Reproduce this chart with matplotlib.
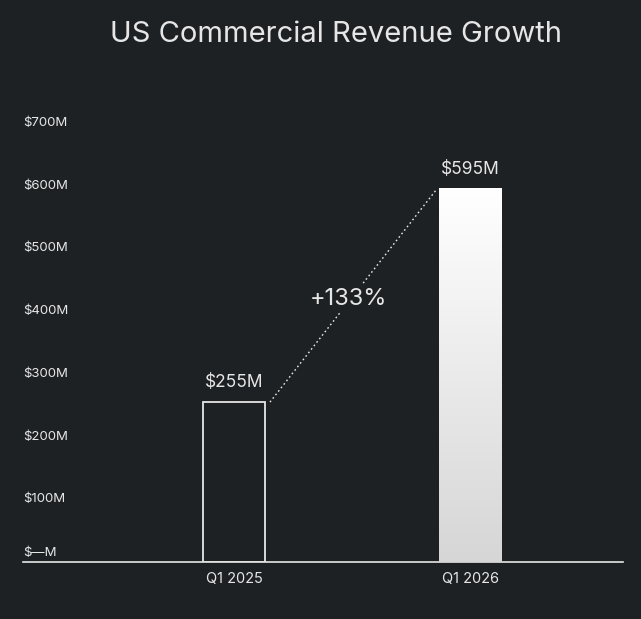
import matplotlib
matplotlib.use("Agg")
import matplotlib.pyplot as plt
import numpy as np
from matplotlib.colors import LinearSegmentedColormap

categories = ["Q1 2025", "Q1 2026"]
values = [255, 595]
value_labels = ["$255M", "$595M"]
growth_label = "+133%"
yticks = [0, 100, 200, 300, 400, 500, 600, 700]
ytick_labels = ["$—M", "$100M", "$200M", "$300M", "$400M", "$500M", "$600M", "$700M"]
title = "US Commercial Revenue Growth"

BG = "#1e2124"
FG = "#e6e6e6"
plt.rcParams['font.family'] = ['Inter', 'DejaVu Sans']

W, H = 641, 619
fig = plt.figure(figsize=(W/100, H/100), dpi=100, facecolor=BG)
ax = fig.add_axes([23/W, (H-562)/H, 600/W, (562-123)/H], facecolor=BG)
for s in ax.spines.values():
    s.set_visible(False)
ax.axhline(0, color=FG, lw=1.2, clip_on=False)
ax.set_xticks([])
ax.set_yticks([])

bw = 62/236
x = np.arange(len(categories))
ax.bar(x[0], values[0], width=bw, facecolor="none", edgecolor=FG, lw=1.3)
grad = np.linspace(0, 1, 256).reshape(-1, 1)
cmap = LinearSegmentedColormap.from_list("g", ["#d6d6d6", "#ffffff"])
ax.imshow(grad, cmap=cmap, aspect='auto',
          extent=[x[1]-bw/2, x[1]+bw/2, 0, values[1]], origin='lower', zorder=2)
ax.set_xlim(-211/236, (600-211)/236)
ax.set_ylim(0, 700)

for xi, v, lab in zip(x, values, value_labels):
    ax.text(xi, v + 18, lab, ha='center', va='bottom', color=FG, fontsize=12.5)

for xi, c in zip(x, categories):
    ax.text(xi, -16, c, ha='center', va='top', color=FG, fontsize=10.5)

for t, l in zip(yticks, ytick_labels):
    yy = t if t > 0 else 14
    ax.text(-211/236, yy, l, ha='left', va='center', color=FG, fontsize=9.5)

x0 = x[0] + bw/2 + 5/236
x1 = x[1] - bw/2 - 2/236
ax.plot([x0, x1], [values[0], values[1]], ls=(0, (1.2, 2)), color=FG, lw=1, zorder=3)
ax.text((x0+x1)/2 - 0.02, 420, growth_label, ha='center', va='center', color=FG,
        fontsize=17, zorder=4,
        bbox=dict(facecolor=BG, edgecolor='none', pad=2))

fig.text(336/W, 1-34/H, title, ha='center', va='center', color=FG, fontsize=21)

fig.savefig("out.png", dpi=100, facecolor=BG)
